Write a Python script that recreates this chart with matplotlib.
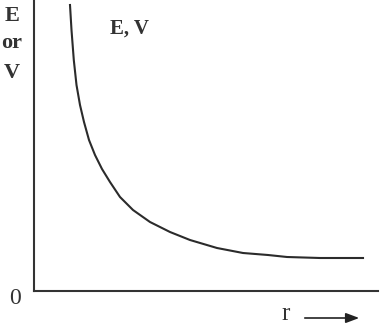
import numpy as np
import matplotlib.pyplot as plt

# values (arbitrary units)
r = [36, 37.5, 39.8, 42.5, 46, 50, 55, 61, 68, 76, 86, 99, 116, 136, 156, 183, 209, 234, 253, 286, 329]
E = [286, 261, 231, 206, 186, 169, 151, 136, 122, 109, 94, 81, 69, 59, 51, 43, 38, 36, 34, 33, 33]

W, H = 380, 324
fig = plt.figure(figsize=(W / 100, H / 100), dpi=100)
ax = fig.add_axes([34 / W, 33 / H, 344 / W, 291 / H])

ax.plot(r, E, color="#2b2b2b", lw=1.5, solid_joinstyle="round")
ax.set_xlim(0, 344)
ax.set_ylim(0, 291)
ax.set_xticks([])
ax.set_yticks([])
for s in ["top", "right"]:
    ax.spines[s].set_visible(False)
for s in ["left", "bottom"]:
    ax.spines[s].set_linewidth(1.5)
    ax.spines[s].set_color("#333333")

font = dict(family="Liberation Serif", color="#333333")

def px(x, y):
    return x / W, 1 - y / H

fig.text(*px(12, 16), "E", ha="center", va="center", fontsize=16, fontweight="bold", **font)
fig.text(*px(12, 43), "or", ha="center", va="center", fontsize=16, fontweight="bold", **font)
fig.text(*px(12, 73), "V", ha="center", va="center", fontsize=16, fontweight="bold", **font)
fig.text(*px(129, 29), "E, V", ha="center", va="center", fontsize=15, fontweight="bold", **font)
fig.text(*px(15, 298), "0", ha="center", va="center", fontsize=17, **font)
fig.text(*px(286, 314), "r", ha="center", va="center", fontsize=18, **font)

ax.annotate("", xy=px(362, 318), xytext=px(302, 318),
            xycoords="figure fraction", textcoords="figure fraction",
            arrowprops=dict(arrowstyle="-|>,head_length=0.8,head_width=0.3",
                            color="#222222", lw=1.2))

plt.savefig("out.png", dpi=100)
